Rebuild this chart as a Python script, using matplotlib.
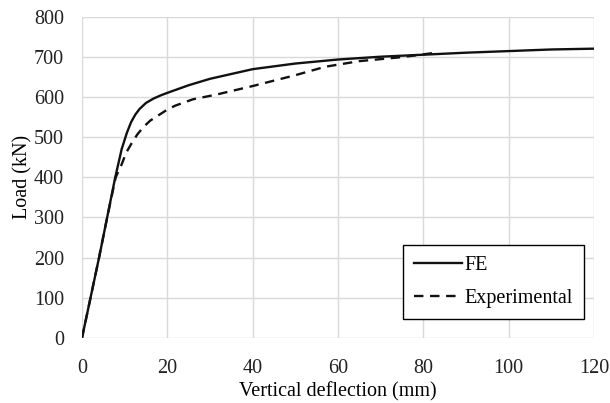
import numpy as np
import matplotlib.pyplot as plt

# FE curve (deflection mm, load kN)
fe_x = [0, 2, 4, 5.9, 7.8, 9.3, 10.5, 11.5, 12.5, 13.5, 15, 16.8, 18.5, 20, 25, 30, 40, 50, 60, 70, 80, 90, 100, 110, 120]
fe_y = [0, 100, 200, 300, 400, 470, 510, 537, 556, 570, 585, 596, 604, 610, 629, 645, 669, 683, 693, 700, 705, 710, 714, 718, 720]

# Experimental curve
ex_x = [0, 2, 4, 5.9, 7.9, 9.3, 10.3, 11.6, 13, 14.4, 16, 17.9, 19.8, 21.8, 26, 31.6, 40, 50, 57, 65, 75, 83]
ex_y = [0, 100, 200, 300, 400, 432, 460, 484, 507, 525, 541, 554, 567, 578, 594, 606, 627, 654, 675, 689, 699, 710]

plt.rcParams['font.family'] = ['Liberation Serif', 'DejaVu Serif']
plt.rcParams['font.size'] = 14.5

fig = plt.figure(figsize=(6.10, 4.03), dpi=100)
ax = fig.add_axes([0.1344, 0.1613, 0.8394, 0.7977])

ax.plot(fe_x, fe_y, '-', color='#111111', linewidth=1.7, label='FE')
ax.plot(ex_x, ex_y, '--', color='#111111', linewidth=1.7, dashes=(4, 2.8), label='Experimental')

ax.set_xlim(0, 120)
ax.set_ylim(0, 800)
ax.set_xticks(np.arange(0, 121, 20))
ax.set_yticks(np.arange(0, 801, 100))
ax.grid(True, color='#d9d9d9', linewidth=1.0)
ax.set_axisbelow(True)
for s in ax.spines.values():
    s.set_visible(False)
ax.tick_params(length=0, colors='#222222')
ax.tick_params(axis='x', pad=15)
ax.tick_params(axis='y', pad=13)

ax.set_xlabel('Vertical deflection (mm)', labelpad=3)
ax.set_ylabel('Load (kN)', labelpad=1)

leg = ax.legend(loc='lower right', bbox_to_anchor=(0.98, 0.058), borderaxespad=0,
                fancybox=False, edgecolor='black', framealpha=1,
                handlelength=2.4, handletextpad=0.1, labelspacing=0.7,
                borderpad=0.55)
leg.get_frame().set_linewidth(1.0)

fig.savefig('out.png', dpi=100)
